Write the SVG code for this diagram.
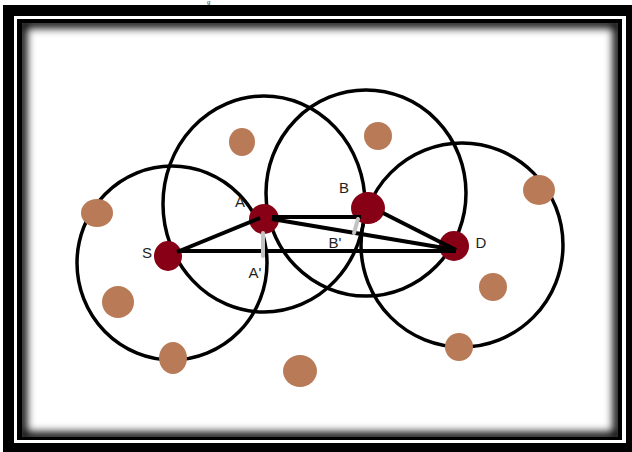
<svg xmlns="http://www.w3.org/2000/svg" width="632" height="452" viewBox="0 0 632 452">
<defs>
<style>
.lbl{font-family:"Liberation Sans",Arial,sans-serif;font-size:15px;fill:#1e1e1e;text-anchor:middle}
.range{fill:none;stroke:#000;stroke-width:3.5}
.node{fill:#880015}
.dot{fill:#b97a57}
.link{stroke:#000;stroke-width:4;stroke-linecap:butt}
.proj{stroke:#c3c3c3;stroke-width:4;stroke-linecap:round}
</style>
<clipPath id="inner"><rect x="22" y="23" width="596" height="414"/></clipPath>
<filter id="blur" x="-10%" y="-10%" width="120%" height="120%"><feGaussianBlur stdDeviation="4"/></filter>
</defs>
<rect width="632" height="452" fill="#fff"/>
<g id="frame">
<rect x="3" y="5" width="629" height="447" fill="#000"/>
<rect x="14" y="16" width="612" height="427" fill="#fff"/>
<rect x="17" y="19" width="605" height="421" fill="#000"/>
<rect x="22" y="23" width="596" height="414" fill="#fff"/>
<rect x="22" y="23" width="596" height="414" fill="none" stroke="#000" stroke-width="10" filter="url(#blur)" clip-path="url(#inner)"/>
</g>
<text x="207" y="3.6" style="font-family:'Liberation Sans',sans-serif;font-size:6px;fill:#333">g</text>
<g id="ranges">
<ellipse class="range" cx="172" cy="263" rx="95" ry="97"/>
<ellipse class="range" cx="264" cy="204" rx="101" ry="108"/>
<ellipse class="range" cx="366" cy="193" rx="100" ry="103"/>
<ellipse class="range" cx="462" cy="245" rx="101" ry="102"/>
</g>
<g id="others">
<ellipse class="dot" cx="242" cy="142" rx="13" ry="14"/>
<ellipse class="dot" cx="378" cy="136" rx="14" ry="14"/>
<ellipse class="dot" cx="97" cy="213" rx="16" ry="14"/>
<ellipse class="dot" cx="539" cy="190" rx="16" ry="15"/>
<ellipse class="dot" cx="118" cy="302" rx="16" ry="16"/>
<ellipse class="dot" cx="493" cy="287" rx="14" ry="14"/>
<ellipse class="dot" cx="173" cy="358" rx="14" ry="16"/>
<ellipse class="dot" cx="300" cy="371" rx="17" ry="16"/>
<ellipse class="dot" cx="459" cy="347" rx="14" ry="14"/>
</g>
<g id="node-S"><ellipse class="node" cx="168" cy="256" rx="14" ry="15"/><text class="lbl" x="147" y="258">S</text></g>
<g id="node-A"><ellipse class="node" cx="264" cy="219" rx="15" ry="15"/><text class="lbl" x="240" y="207">A</text></g>
<g id="node-B"><ellipse class="node" cx="368" cy="208" rx="17" ry="16"/><text class="lbl" x="344" y="193">B</text></g>
<g id="node-D"><ellipse class="node" cx="454" cy="246" rx="15" ry="15"/><text class="lbl" x="481" y="248">D</text></g>
<g id="connectors">
<line class="link" x1="177" y1="252" x2="260" y2="218"/>
<line class="link" x1="177" y1="251" x2="456" y2="251"/>
<line class="link" x1="272" y1="217" x2="361" y2="217"/>
<line class="link" x1="272" y1="219" x2="456" y2="250"/>
<line class="link" x1="383" y1="213" x2="456" y2="250"/>
<line class="proj" x1="263" y1="233" x2="263" y2="256"/>
<line class="proj" x1="358" y1="219" x2="354" y2="233"/>
</g>
<g id="proj-labels">
<text class="lbl" x="255" y="278">A'</text>
<text class="lbl" x="335" y="248">B'</text>
</g>
</svg>
